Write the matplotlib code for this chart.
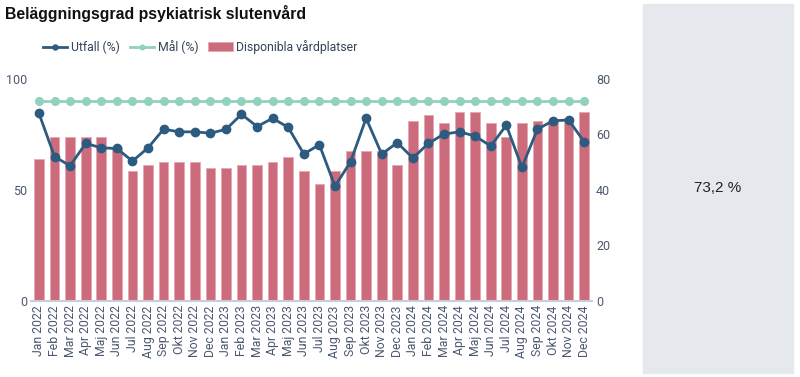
import matplotlib
matplotlib.use('Agg')
import matplotlib.pyplot as plt
import numpy as np

# data
months = ['Jan 2022', 'Feb 2022', 'Mar 2022', 'Apr 2022', 'Maj 2022', 'Jun 2022',
          'Jul 2022', 'Aug 2022', 'Sep 2022', 'Okt 2022', 'Nov 2022', 'Dec 2022',
          'Jan 2023', 'Feb 2023', 'Mar 2023', 'Apr 2023', 'Maj 2023', 'Jun 2023',
          'Jul 2023', 'Aug 2023', 'Sep 2023', 'Okt 2023', 'Nov 2023', 'Dec 2023',
          'Jan 2024', 'Feb 2024', 'Mar 2024', 'Apr 2024', 'Maj 2024', 'Jun 2024',
          'Jul 2024', 'Aug 2024', 'Sep 2024', 'Okt 2024', 'Nov 2024', 'Dec 2024']
utfall = [84.5, 65.0, 60.9, 71.0, 69.0, 68.7, 63.0, 69.0, 77.4, 76.2, 76.2, 75.6,
          77.3, 84.1, 78.6, 82.3, 78.2, 66.2, 70.4, 51.7, 62.7, 82.3, 66.2, 71.3,
          64.4, 71.0, 75.2, 76.2, 74.3, 69.8, 79.2, 60.2, 77.4, 81.2, 81.5, 71.7]
mal = [90] * 36
platser = [51, 59, 59, 59, 59, 55, 47, 49, 50, 50, 50, 48,
           48, 49, 49, 50, 52, 47, 42, 47, 54, 54, 54, 49,
           65, 67, 64, 68, 68, 64, 59, 64, 65, 65, 66, 68]

BAR = '#cc6b7b'
LINE = '#2d5b80'
GOAL = '#92d1bf'
TXT = '#4a5870'

plt.rcParams['font.family'] = ['Roboto', 'DejaVu Sans']

fig = plt.figure(figsize=(8, 3.77), dpi=100)

# side panel with the key figure
fig.patches.append(plt.Rectangle((643 / 800, 4 / 377), 150 / 800, 369 / 377,
                                 transform=fig.transFigure, color='#e5e9ee', zorder=0))
fig.text(718 / 800, 1 - 188 / 377, '73,2 %', ha='center', va='center', fontsize=11,
         color='#222222', family=['Liberation Sans'])

fig.text(5 / 800, 1 - 14 / 377, 'Beläggningsgrad psykiatrisk slutenvård', ha='left',
         va='center', fontsize=11.4, fontweight='bold', color='#111111',
         family=['Liberation Sans'])

ax = fig.add_axes([31.2 / 800, 76 / 377, (592 - 31.2) / 800, (301 - 79) / 377])
ax2 = ax.twinx()

x = np.arange(len(months))
bars = ax2.bar(x, platser, width=0.62, color=BAR, edgecolor='#e3a9b3', linewidth=0.6,
               label='Disponibla vårdplatser', zorder=1)
ax2.set_ylim(0, 80)
ax2.set_yticks([0, 20, 40, 60, 80])

ax.set_zorder(ax2.get_zorder() + 1)
ax.patch.set_visible(False)
l1, = ax.plot(x, utfall, color=LINE, lw=2, marker='o', ms=6, label='Utfall (%)')
l2, = ax.plot(x, mal, color=GOAL, lw=2, marker='o', ms=5.5, label='Mål (%)')
ax.set_ylim(0, 100)
ax.set_yticks([0, 50, 100])
ax.set_xlim(-0.5, len(months) - 0.5)
ax.set_xticks(x)
ax.set_xticklabels(months, rotation=90)

for a in (ax, ax2):
    for s in a.spines.values():
        s.set_visible(False)
    a.tick_params(length=0, colors=TXT, labelsize=9)
ax.spines['bottom'].set_visible(True)
ax.spines['bottom'].set_color('#c9ced6')
ax.spines['bottom'].set_linewidth(1.5)
ax.tick_params(axis='x', labelsize=8.8, pad=3)
ax.tick_params(axis='y', pad=3)
ax2.tick_params(axis='y', pad=3)

fig.legend([l1, l2, bars], ['Utfall (%)', 'Mål (%)', 'Disponibla vårdplatser'],
           loc='center left', bbox_to_anchor=(32 / 800, 1 - 47 / 377), ncol=3,
           frameon=False, fontsize=8.8, labelcolor='#34435a', handlelength=2.0,
           handletextpad=0.3, columnspacing=0.8, markerscale=0.6)

fig.savefig('out.png', dpi=100)
